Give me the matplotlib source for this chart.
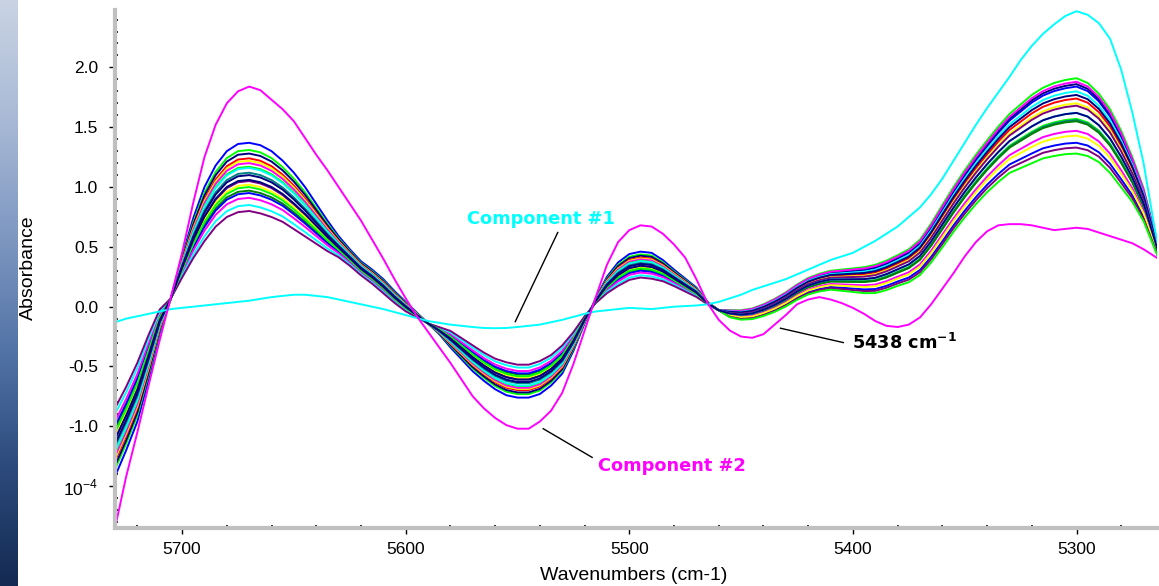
import numpy as np
import matplotlib
matplotlib.use("Agg")
import matplotlib.pyplot as plt
from matplotlib.colors import LinearSegmentedColormap
from matplotlib.ticker import MultipleLocator, FixedLocator, FixedFormatter

# ---------------- data ----------------
wavenumbers = np.arange(5730, 5259, -5)   # 5730 ... 5260 cm-1, 95 points

component1 = [-0.13, -0.10, -0.08, -0.06, -0.04, -0.02, -0.01, 0.00, 0.01, 0.02,
              0.03, 0.04, 0.05, 0.065, 0.08, 0.09, 0.10, 0.10, 0.09, 0.08,
              0.06, 0.04, 0.02, 0.00, -0.02, -0.045, -0.07, -0.095, -0.12, -0.135,
              -0.15, -0.16, -0.17, -0.178, -0.18, -0.178, -0.17, -0.16, -0.15, -0.13,
              -0.11, -0.085, -0.06, -0.04, -0.03, -0.02, -0.01, -0.015, -0.02, -0.01,
              0.00, 0.005, 0.01, 0.02, 0.04, 0.07, 0.10, 0.14, 0.17, 0.20,
              0.23, 0.27, 0.31, 0.35, 0.39, 0.42, 0.45, 0.50, 0.55, 0.61,
              0.67, 0.75, 0.83, 0.94, 1.07, 1.22, 1.37, 1.52, 1.66, 1.79,
              1.92, 2.06, 2.18, 2.28, 2.36, 2.43, 2.47, 2.44, 2.37, 2.24,
              1.98, 1.62, 1.20, 0.65, 0.20]

component2 = [-1.85, -1.42, -1.05, -0.66, -0.28, 0.08, 0.45, 0.87, 1.25, 1.52,
              1.70, 1.80, 1.84, 1.81, 1.73, 1.65, 1.55, 1.41, 1.27, 1.14,
              1.00, 0.86, 0.72, 0.56, 0.40, 0.23, 0.07, -0.08, -0.21, -0.34,
              -0.47, -0.61, -0.75, -0.85, -0.93, -0.99, -1.02, -1.02, -0.96, -0.87,
              -0.72, -0.48, -0.20, 0.08, 0.35, 0.54, 0.64, 0.68, 0.67, 0.61,
              0.52, 0.41, 0.23, 0.03, -0.11, -0.20, -0.25, -0.26, -0.23, -0.15,
              -0.07, 0.02, 0.06, 0.08, 0.06, 0.03, -0.01, -0.06, -0.12, -0.16,
              -0.17, -0.15, -0.09, 0.02, 0.15, 0.28, 0.42, 0.54, 0.63, 0.68,
              0.69, 0.69, 0.68, 0.66, 0.64, 0.65, 0.66, 0.65, 0.62, 0.59,
              0.56, 0.53, 0.48, 0.42, 0.36]

sample_mean = [-1.13, -0.93, -0.71, -0.42, -0.12, 0.07, 0.33, 0.57, 0.77, 0.92,
               1.02, 1.07, 1.08, 1.06, 1.02, 0.96, 0.88, 0.79, 0.69, 0.59,
               0.50, 0.41, 0.32, 0.25, 0.17, 0.08, 0.00, -0.07, -0.14, -0.20,
               -0.27, -0.35, -0.43, -0.50, -0.56, -0.60, -0.62, -0.62, -0.59, -0.53,
               -0.44, -0.29, -0.11, 0.05, 0.18, 0.27, 0.33, 0.35, 0.34, 0.30,
               0.24, 0.18, 0.12, 0.03, -0.03, -0.06, -0.07, -0.06, -0.03, 0.01,
               0.06, 0.12, 0.17, 0.20, 0.22, 0.22, 0.22, 0.22, 0.23, 0.26,
               0.30, 0.34, 0.41, 0.53, 0.67, 0.81, 0.94, 1.06, 1.17, 1.27,
               1.36, 1.42, 1.48, 1.53, 1.56, 1.58, 1.59, 1.56, 1.49, 1.38,
               1.23, 1.06, 0.85, 0.55, 0.25]

# spread of the sample set (per unit score) in the left and right halves
loading_left = [-0.29, -0.27, -0.25, -0.19, -0.10, 0.00, 0.09, 0.17, 0.23, 0.26,
                0.28, 0.29, 0.29, 0.29, 0.28, 0.26, 0.24, 0.21, 0.17, 0.13,
                0.09, 0.07, 0.06, 0.06, 0.06, 0.05, 0.04, 0.02, 0.00, -0.03,
                -0.07, -0.09, -0.11, -0.12, -0.13, -0.14, -0.14, -0.14, -0.14, -0.13,
                -0.12, -0.08, -0.03, 0.02, 0.07, 0.10, 0.11, 0.11, 0.11, 0.09,
                0.07, 0.055, 0.04, 0.01, 0.00] + [0.0] * 40

loading_right = [0.0] * 55 + [
                 0.03, 0.04, 0.045, 0.05, 0.055,
                 0.06, 0.065, 0.07, 0.075, 0.08, 0.09, 0.10, 0.11, 0.12, 0.125,
                 0.13, 0.14, 0.15, 0.165, 0.18, 0.19, 0.20, 0.21, 0.22, 0.235,
                 0.25, 0.27, 0.29, 0.30, 0.31, 0.315, 0.32, 0.31, 0.29, 0.27,
                 0.24, 0.19, 0.14, 0.07, 0.00]

sample_colors = ["#0000FF", "#00FF00", "#000080", "#FF0000", "#FFFF00", "#FF00FF",
                 "#00FF00", "#00FFFF", "#008080", "#000080", "#800080", "#008000",
                 "#0000FF", "#FF00FF", "#FFFF00", "#00FFFF", "#800080", "#00FF00",
                 "#000080"]
sample_left_peak = [1.37, 1.31, 1.28, 1.24, 1.22, 1.20, 1.17, 1.16, 1.12, 1.10,
                    1.05, 0.97, 0.95, 0.91, 1.02, 0.85, 0.80, 1.00, 1.06]   # at 5670
sample_right_peak = [1.84, 1.91, 1.86, 1.74, 1.70, 1.88, 1.57, 1.80, 1.56, 1.77,
                     1.68, 1.55, 1.37, 1.47, 1.43, 1.62, 1.33, 1.28, 1.62]  # at 5300

yticks = [-1.5, -1.0, -0.5, 0.0, 0.5, 1.0, 1.5, 2.0]
ytick_labels = ["10$^{\\mathregular{-4}}$", "-1.0", "-0.5", "0.0", "0.5", "1.0", "1.5", "2.0"]
xticks = [5700, 5600, 5500, 5400, 5300]

# ---------------- figure ----------------
W, H = 1159, 586
fig = plt.figure(figsize=(W / 100, H / 100), dpi=100)

# decorative blue strip at the far left
sax = fig.add_axes([0, 0, 18 / W, 1])
grad = np.linspace(0, 1, 256).reshape(-1, 1)
cmap = LinearSegmentedColormap.from_list(
    "bg", ["#c9d3e3", "#a9bad6", "#7f98c2", "#5273a6", "#2c4a7c", "#142a52"])
sax.imshow(grad, aspect="auto", cmap=cmap, extent=[0, 1, 0, 1], origin="upper")
sax.axis("off")

ax = fig.add_axes([115 / W, 58 / H, 1042 / W, 518 / H])

wl = list(wavenumbers)
il, ir = wl.index(5670), wl.index(5300)
mean = np.array(sample_mean)
ll = np.array(loading_left)
lr = np.array(loading_right)
for col, lp, rp in zip(sample_colors, sample_left_peak, sample_right_peak):
    a = (lp - sample_mean[il]) / loading_left[il]
    b = (rp - sample_mean[ir]) / loading_right[ir]
    ax.plot(wavenumbers, mean + a * ll + b * lr, color=col, lw=1.4)

ax.plot(wavenumbers, component1, color="#00FFFF", lw=1.4)
ax.plot(wavenumbers, component2, color="#FF00FF", lw=1.4)

ax.set_xlim(5730, 5264)
ax.set_ylim(-1.85, 2.48)

# spines
for s in ["top", "right"]:
    ax.spines[s].set_visible(False)
for s in ["left", "bottom"]:
    ax.spines[s].set_color("#c0c0c0")
    ax.spines[s].set_linewidth(3)

ax.xaxis.set_major_locator(FixedLocator(xticks))
ax.xaxis.set_minor_locator(MultipleLocator(20))
ax.yaxis.set_major_locator(FixedLocator(yticks))
ax.yaxis.set_major_formatter(FixedFormatter(ytick_labels))
ax.yaxis.set_minor_locator(MultipleLocator(0.1))

tickfont = "Liberation Sans"
ax.tick_params(axis="both", which="major", direction="out", length=4, width=1,
               color="black", labelsize=12.5)
ax.tick_params(axis="x", which="major", pad=6)
ax.tick_params(axis="y", which="major", pad=8)
ax.tick_params(axis="both", which="minor", direction="in", length=2, width=1.2,
               color="black")
for lab in ax.get_xticklabels() + ax.get_yticklabels():
    lab.set_fontfamily(tickfont)

fig.text(634 / W, 1 - 575 / H, "Wavenumbers (cm-1)", fontsize=14,
         fontfamily=tickfont, ha="center", va="center")
fig.text(28 / W, 1 - 268 / H, "Absorbance", fontsize=14, rotation=90,
         fontfamily=tickfont, ha="center", va="center")

# annotations
ax.plot([5532, 5551], [0.62, -0.125], color="black", lw=1)
ax.text(5539.4, 0.73, "Component #1", color="#00FFFF", fontsize=12.8,
        fontweight="bold", ha="center", va="center", fontfamily="DejaVu Sans")
ax.plot([5538.5, 5516.6], [-1.02, -1.26], color="black", lw=1)
ax.text(5481, -1.33, "Component #2", color="#FF00FF", fontsize=12.8,
        fontweight="bold", ha="center", va="center", fontfamily="DejaVu Sans")
ax.plot([5432.4, 5404.3], [-0.18, -0.30], color="black", lw=1)
ax.text(5377.0, -0.30, "5438 cm$^{\\mathbf{-1}}$", color="black", fontsize=12.8,
        fontweight="bold", ha="center", va="center", fontfamily="DejaVu Sans")

fig.savefig("out.png", dpi=100)
